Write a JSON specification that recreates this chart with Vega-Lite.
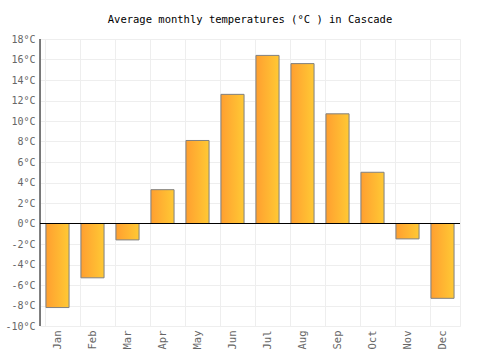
{
  "$schema": "https://vega.github.io/schema/vega-lite/v6.json",
  "width": 420,
  "height": 287,
  "autosize": {"type": "none"},
  "padding": {"left": 40, "top": 39, "right": 40, "bottom": 24},
  "background": "white",
  "title": {
    "text": "Average monthly temperatures (°C ) in Cascade",
    "font": "DejaVu Sans Mono",
    "fontSize": 10.5,
    "fontWeight": "normal",
    "color": "#000000",
    "offset": 9,
    "anchor": "middle"
  },
  "config": {
    "view": {"stroke": "#eeeeee"},
    "axis": {"labelFont": "DejaVu Sans Mono", "labelFontSize": 10.5, "labelColor": "#666666", "gridColor": "#eeeeee", "domain": false, "ticks": false, "labelOverlap": false}
  },
  "data": {
    "values": [
      {"month": "Jan", "temp": -8.2},
      {"month": "Feb", "temp": -5.3},
      {"month": "Mar", "temp": -1.6},
      {"month": "Apr", "temp": 3.3},
      {"month": "May", "temp": 8.1},
      {"month": "Jun", "temp": 12.6},
      {"month": "Jul", "temp": 16.4},
      {"month": "Aug", "temp": 15.6},
      {"month": "Sep", "temp": 10.7},
      {"month": "Oct", "temp": 5.0},
      {"month": "Nov", "temp": -1.5},
      {"month": "Dec", "temp": -7.3}
    ]
  },
  "encoding": {
    "y": {
      "field": "temp",
      "type": "quantitative",
      "title": null,
      "scale": {"domain": [-10, 18], "nice": false},
      "axis": {"values": [-10, -8, -6, -4, -2, 0, 2, 4, 6, 8, 10, 12, 14, 16, 18], "labelExpr": "datum.value + '°C'", "labelPadding": 5, "grid": true, "labelOverlap": false, "labelFontSize": 10}
    }
  },
  "layer": [
    {
      "mark": {
        "type": "bar",
        "stroke": "#808080",
        "strokeWidth": 1,
        "fill": {
          "gradient": "linear",
          "x1": 0, "y1": 0, "x2": 1, "y2": 0,
          "stops": [
            {"offset": 0, "color": "#ff9f30"},
            {"offset": 1, "color": "#ffc934"}
          ]
        }
      },
      "encoding": {
        "x": {
          "field": "month",
          "type": "ordinal",
          "sort": null,
          "title": null,
          "scale": {"paddingInner": 0.34, "paddingOuter": 0.17},
          "axis": {"labelAngle": -90, "labelAlign": "right", "labelBaseline": "middle", "labelPadding": 4, "grid": true, "bandPosition": 0, "labelOverlap": false}
        }
      }
    },
    {
      "mark": {"type": "rule", "color": "#000000", "strokeWidth": 1},
      "data": {"values": [{"temp": 0}]},
      "encoding": {}
    },
    {
      "mark": {"type": "rule", "color": "#000000", "strokeWidth": 1},
      "data": {"values": [{"temp": -10, "b": 18}]},
      "encoding": {"x": {"value": 0}, "y2": {"field": "b"}}
    }
  ]
}
